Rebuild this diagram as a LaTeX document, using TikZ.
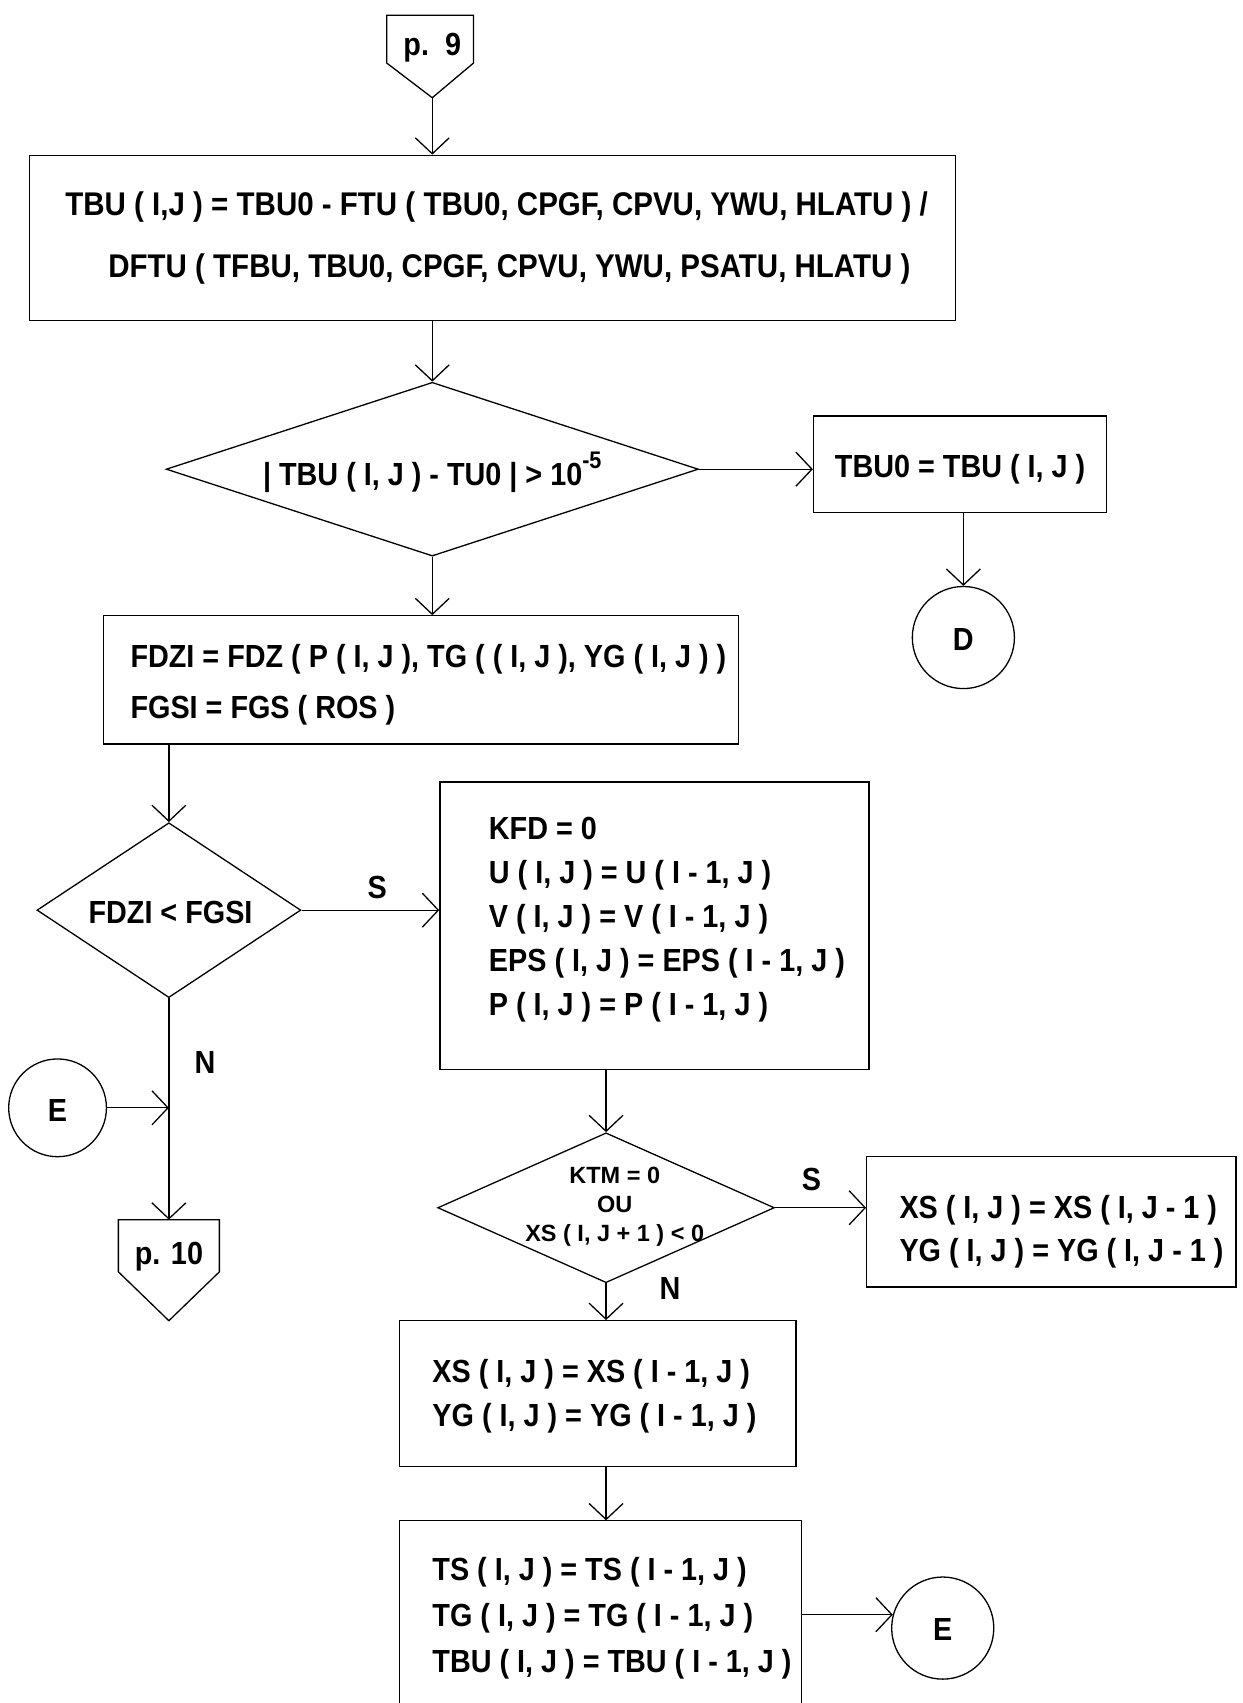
\documentclass[tikz,border=0pt]{standalone}
\usepackage{fontspec}
\setmainfont{Liberation Sans}[FakeStretch=0.9]
\newfontfamily\widefont{Liberation Sans}
\usetikzlibrary{shapes.geometric,arrows.meta}
\newcommand\pxu[1]{#1*1.0866pt}
\begin{document}
\begin{tikzpicture}[x=1.0866pt,y=-1.0866pt,
  ln/.style={line width=1.3pt},
  arr/.style={ln,-{Straight Barb[length=16pt,width=34pt,line width=1.3pt]}},
  box/.style={draw,ln,rectangle,inner sep=0pt},
  txt/.style={font=\bfseries\fontsize{32}{44}\selectfont,align=left,inner sep=0pt},
  dia/.style={draw,ln,diamond,inner sep=0pt},
  conn/.style={draw,ln,circle,inner sep=0pt},
  lab/.style={font=\bfseries\fontsize{32}{36}\selectfont,inner sep=0pt}]
\useasboundingbox (0,0) rectangle (1144,1568);

% p. 9 off-page connector
\draw[ln] (356,14) -- (436,14) -- (436,58) -- (398,90) coordinate (p9tip) -- (356,58) -- cycle;
\node[lab] (p9) at (398,44) {p.\ \ 9};

% box 1
\node[box,minimum width=\pxu{853},minimum height=\pxu{152}] (b1) at (453.5,219) {};
\node[txt,font=\bfseries\fontsize{32.8}{62}\selectfont,anchor=west] (b1t) at (60,219)
  {TBU ( I,J ) = TBU0 - FTU ( TBU0, CPGF, CPVU, YWU, HLATU ) /\\
   \hspace*{43pt}DFTU ( TFBU, TBU0, CPGF, CPVU, YWU, PSATU, HLATU )};

% diamond 1
\node[dia,minimum width=\pxu{490},minimum height=\pxu{160}] (d1) at (398,432) {};
\node[txt] (d1t) at (398,435) {| TBU ( I, J ) - TU0 | > 10\raisebox{0.55em}{\fontsize{24}{24}\selectfont -5}};

% TBU0 box
\node[box,minimum width=\pxu{270},minimum height=\pxu{89}] (tb) at (884,427.5) {};
\node[txt] (tbt) at (884,432) {TBU0 = TBU ( I, J )};

% connector D
\node[conn,minimum size=\pxu{94}] (D) at (887,587) {};
\node[lab] (Dt) at (887,589) {D};

% FDZI box
\node[box,minimum width=\pxu{585},minimum height=\pxu{118}] (fd) at (387.5,626) {};
\node[txt,font=\bfseries\fontsize{32}{51}\selectfont,anchor=west] (fdt) at (120,630.5)
  {FDZI = FDZ ( P ( I, J ), TG ( ( I, J ), YG ( I, J ) )\\ FGSI = FGS ( ROS )};

% diamond 2
\node[dia,minimum width=\pxu{243},minimum height=\pxu{161}] (d2) at (155.5,838) {};
\node[txt] (d2t) at (157,840) {FDZI < FGSI};

% KFD box
\node[box,minimum width=\pxu{395},minimum height=\pxu{265}] (kf) at (602.5,852.5) {};
\node[txt,font=\bfseries\fontsize{32}{44}\selectfont,anchor=west] (kft) at (450,847)
  {KFD = 0\\ U ( I, J ) = U ( I - 1, J )\\ V ( I, J ) = V ( I - 1, J )\\
   EPS ( I, J ) = EPS ( I - 1, J )\\ P ( I, J ) = P ( I - 1, J )};

% connector E (left)
\node[conn,minimum size=\pxu{90}] (E1) at (53,1020) {};
\node[lab] (E1t) at (53,1022) {E};
\coordinate (join) at (155.5,1020);

% p. 10 off-page connector
\draw[ln] (109,1123) -- (202,1123) -- (202,1171) -- (155.5,1216) -- (109,1171) -- cycle;
\coordinate (p10in) at (155.5,1123);
\node[lab] (p10) at (155.5,1157) {p. 10};

% diamond 3
\node[dia,minimum width=\pxu{310},minimum height=\pxu{138}] (d3) at (558,1112) {};
\node[txt,font=\widefont\bfseries\fontsize{23.5}{29}\selectfont,align=center] (d3t) at (566,1111)
  {KTM = 0\\ OU\\ XS ( I, J + 1 ) < 0};

% XS box right
\node[box,minimum width=\pxu{340},minimum height=\pxu{120}] (xs) at (968,1125) {};
\node[txt,font=\bfseries\fontsize{32}{43.5}\selectfont,anchor=west] (xst) at (828,1134)
  {XS ( I, J ) = XS ( I, J - 1 )\\ YG ( I, J ) = YG ( I, J - 1 )};

% XS box below
\node[box,minimum width=\pxu{365},minimum height=\pxu{134}] (xs2) at (550.5,1283) {};
\node[txt,font=\bfseries\fontsize{32}{44.5}\selectfont,anchor=west] (xs2t) at (398,1285.5)
  {XS ( I, J ) = XS ( I - 1, J )\\ YG ( I, J ) = YG ( I - 1, J )};

% TS box (open at bottom)
\node[minimum width=\pxu{370},minimum height=\pxu{175},inner sep=0pt] (ts) at (553,1487.5) {};
\draw[ln] (ts.south west) -- (ts.north west) -- (ts.north east) -- (ts.south east);
\node[txt,font=\bfseries\fontsize{32}{46}\selectfont,anchor=west] (tst) at (398,1490)
  {TS ( I, J ) = TS ( I - 1, J )\\ TG ( I, J ) = TG ( I - 1, J )\\ TBU ( I, J ) = TBU ( I - 1, J )};

% connector E (bottom right)
\node[conn,minimum size=\pxu{94}] (E2) at (868,1499) {};
\node[lab] (E2t) at (868,1500) {E};

% connectors
\draw[arr] (p9tip) -- (p9tip |- b1.north);
\draw[arr] (d1.north |- b1.south) -- (d1.north);
\draw[arr] (d1.east) -- (tb.west |- d1.east);
\draw[arr] (D.north |- tb.south) -- (D.north);
\draw[arr] (d1.south) -- (d1.south |- fd.north);
\draw[arr] (d2.north |- fd.south) -- (d2.north);
\draw[arr] (d2.east) -- node[lab,pos=0.55,above=11pt] (S1) {S} (kf.west |- d2.east);
\draw[arr] (d2.south) -- node[lab,pos=0.29,right=25pt] (N1) {N} (p10in);
\draw[arr] (E1.east) -- (join);
\draw[arr] (d3.north |- kf.south) -- (d3.north);
\draw[arr] (d3.east) -- node[lab,pos=0.4,above=16pt] (S2) {S} (xs.west |- d3.east);
\draw[arr] (d3.south) -- node[lab,pos=0.15,right=53pt] (N2) {N} (d3.south |- xs2.north);
\draw[arr] (d3.south |- xs2.south) -- (d3.south |- ts.north);
\draw[arr] (E2.165 -| ts.east) -- (E2.165);
\end{tikzpicture}
\end{document}
